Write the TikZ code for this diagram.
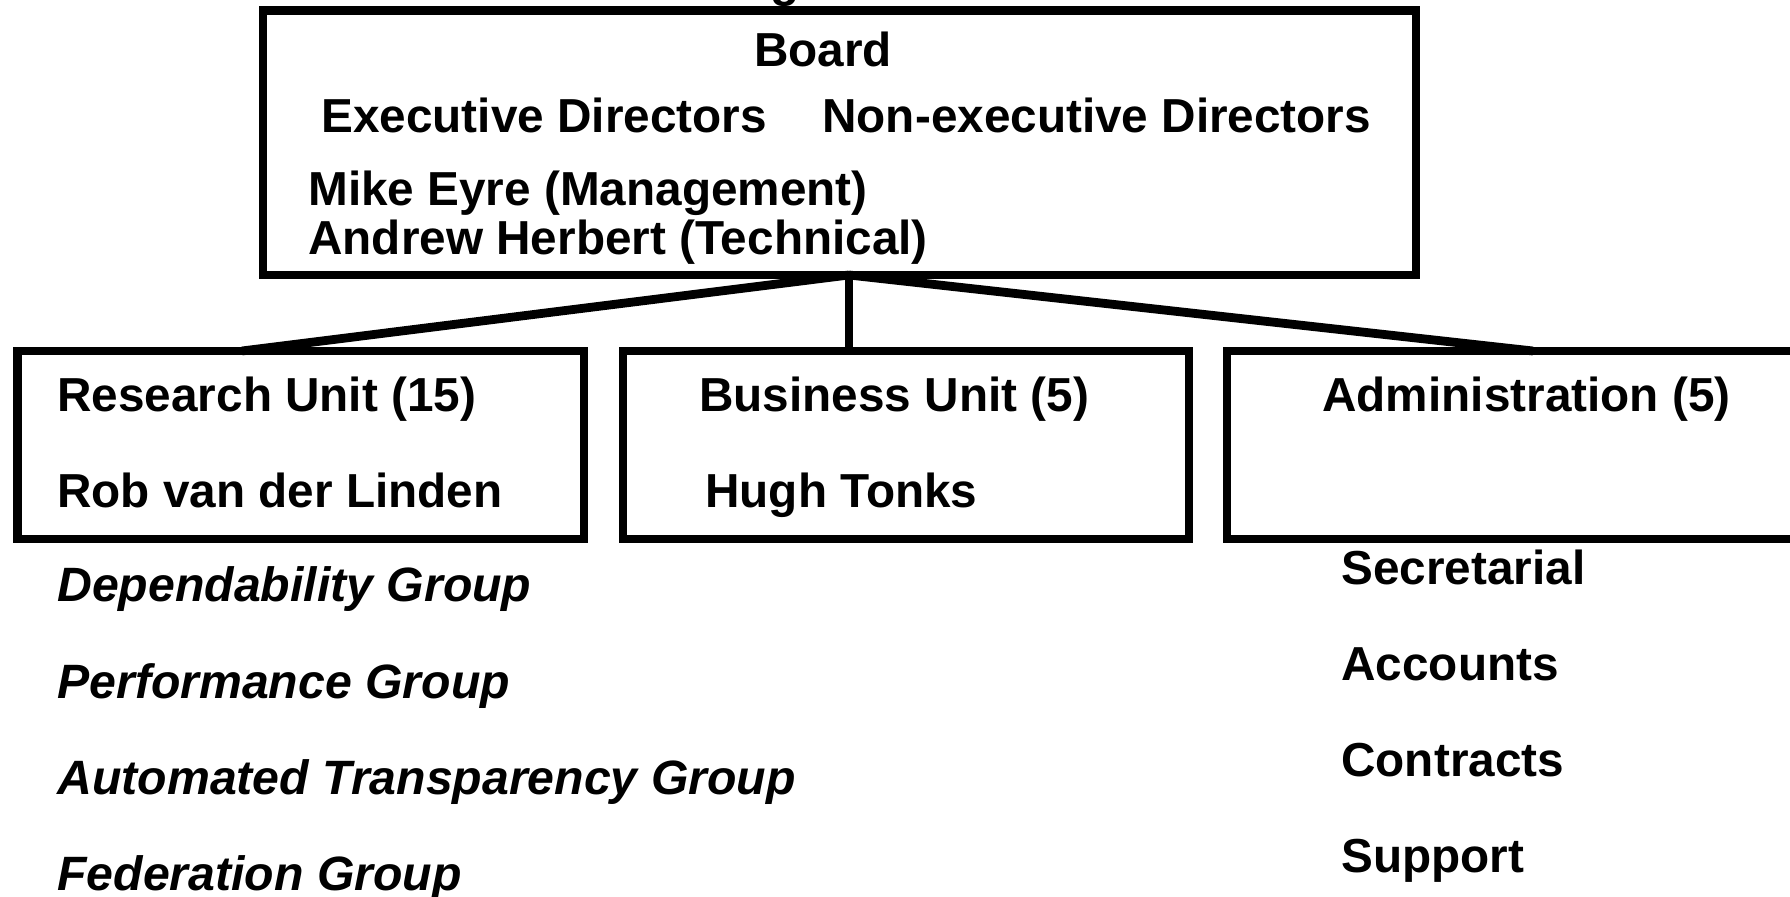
\documentclass[tikz,border=0pt]{standalone}
\usepackage{fontspec}
\setmainfont{Liberation Sans}
\begin{document}
\begin{tikzpicture}[x=0.5pt,y=-0.5pt,
  box/.style={draw=black, line width=4.4pt, shape=rectangle, inner sep=0pt},
  lbl/.style={anchor=base west, inner sep=0pt, font=\fontsize{23.85}{28}\selectfont\bfseries},
  grp/.style={anchor=base west, inner sep=0pt, font=\fontsize{24.1}{28}\selectfont\bfseries\itshape},
  conn/.style={draw=black, line width=4.4pt}]
\useasboundingbox (0,0) rectangle (1790,897);
\begin{scope}
\clip (0,0) rectangle (1790,897);
\node[lbl, anchor=base] (title) at (785,-3) {g};
% boxes
\node[box, minimum width=576.5pt, minimum height=132.25pt] (board) at (839.5,142.75) {};
\node[box, minimum width=283.25pt, minimum height=94pt] (research) at (300.75,445) {};
\node[box, minimum width=283pt, minimum height=94pt] (business) at (906,445) {};
\node[box, minimum width=286.5pt, minimum height=94pt] (admin) at (1513.5,445) {};
% connector anchors
\coordinate (bb) at (849,275);
\coordinate (rtop) at (242,351);
\coordinate (btop) at (849,351);
\coordinate (atop) at (1533,351);
\draw[conn] (bb) -- (rtop);
\draw[conn] (bb) -- (btop);
\draw[conn] (bb) -- (atop);
% board texts
\node[lbl, anchor=base] (boardt) at (823,66.5) {Board};
\node[lbl] (exec) at (321,133) {Executive Directors};
\node[lbl] (nonexec) at (822,133) {Non-executive Directors};
\node[lbl] (mike) at (308,206) {Mike Eyre (Management)};
\node[lbl] (andrew) at (308,255) {Andrew Herbert (Technical)};
% unit texts
\node[lbl] (rut) at (57,411.5) {Research Unit (15)};
\node[lbl] (rob) at (57,507.5) {Rob van der Linden};
\node[lbl] (but) at (699,411.5) {Business Unit (5)};
\node[lbl] (hugh) at (705,507.5) {Hugh Tonks};
\node[lbl] (adt) at (1322,411.5) {Administration (5)};
% groups
\node[grp] (g1) at (57,601.5) {Dependability Group};
\node[grp] (g2) at (57,698.5) {Performance Group};
\node[grp] (g3) at (57,794.5) {Automated Transparency Group};
\node[grp] (g4) at (57,890.5) {Federation Group};
% admin sections
\node[lbl] (s1) at (1341,584.5) {Secretarial};
\node[lbl] (s2) at (1341,680.5) {Accounts};
\node[lbl] (s3) at (1341,776.5) {Contracts};
\node[lbl] (s4) at (1341,872.5) {Support};
\end{scope}
\end{tikzpicture}
\end{document}
